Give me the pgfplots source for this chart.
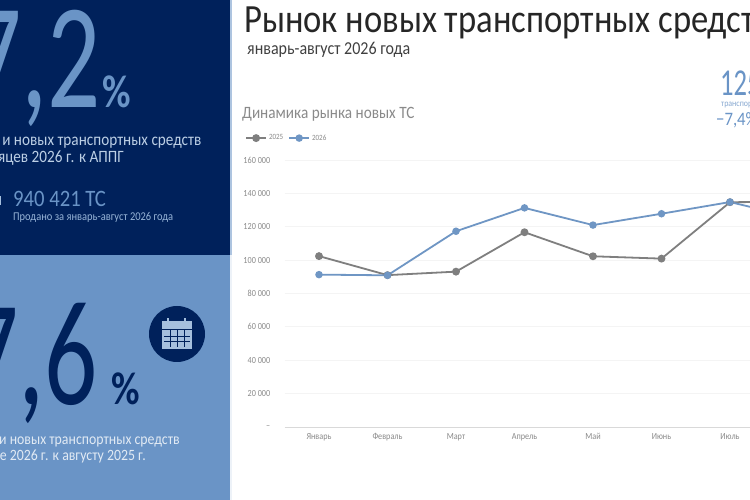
\documentclass[border=0pt]{standalone}
\usepackage{fontspec}
\setmainfont{Carlito}[FakeStretch=0.88]
\newfontfamily\numf{Carlito}[FakeStretch=0.7]
\newfontfamily\pctf{Carlito}[FakeStretch=0.85]
\newfontfamily\titf{Carlito}[FakeStretch=0.865]
\usepackage{pgfplots}
\pgfplotsset{compat=1.18}
\definecolor{navy}{HTML}{00215B}
\definecolor{midblue}{HTML}{6A94C6}
\definecolor{paleline}{HTML}{F4F4F4}
\definecolor{gline}{HTML}{7F7F7F}
\definecolor{bline}{HTML}{6F96C4}
\definecolor{txt}{HTML}{8A8A8A}
\newcommand{\fs}[1]{\fontsize{#1}{#1}\selectfont}
\pgfplotstableread{
x y25 y26
0 102400 91300
1 91000 90900
2 93100 117300
3 116700 131300
4 102300 121000
5 100900 127800
6 134700 134800
7 135000 125000
}\market
\begin{document}
\begin{tikzpicture}[x=1pt,y=1pt]
\path[use as bounding box] (0,0) rectangle (750,500);
\clip (0,0) rectangle (750,500);
\fill[white] (0,0) rectangle (750,500);
% left panels
\fill[navy] (0,245) rectangle (230,500);
\fill[midblue] (0,0) rectangle (230,245);
\fill[midblue!55] (230,245) rectangle (232,500);
\fill[midblue!12] (230,0) rectangle (232,245);
\fill[midblue!60] (0,295) rectangle (1.2,304);
% top panel text
\node[anchor=base east,inner sep=0,text=midblue] at (101,392) {\numf\fs{150}7,2};
\node[anchor=base west,inner sep=0,text=midblue] at (102,392) {\pctf\bfseries\fs{46}\%};
\node[anchor=base east,inner sep=0,text=midblue!45!white] at (201.5,354) {\fs{17.3}и новых транспортных средств};
\node[anchor=base east,inner sep=0,text=midblue!45!white] at (124,337) {\fs{17.3}яцев 2026 г. к АППГ};
\node[anchor=base west,inner sep=0,text=midblue] at (13,293) {\fs{23.5}940 421 ТС};
\node[anchor=base west,inner sep=0,text=midblue!70!white] at (13,279) {\fs{11.9}Продано за январь-август 2026 года};
% bottom panel text
\node[anchor=base east,inner sep=0,text=navy] at (98,95) {\numf\fs{150}7,6};
\node[anchor=base west,inner sep=0,text=navy] at (111,95) {\pctf\bfseries\fs{46}\%};
\node[anchor=base east,inner sep=0,text=midblue!20!white] at (180,55) {\fs{15.7}и новых транспортных средств};
\node[anchor=base east,inner sep=0,text=midblue!20!white] at (146,39) {\fs{15.7}е 2026 г. к августу 2025 г.};
% calendar icon
\fill[navy] (177,166) circle (28);
\fill[midblue!60!white] (162,151) rectangle (192,179);
\draw[navy,line width=0.9pt] (162,170.5) -- (192,170.5) (164,164) -- (190,164) (164,158.5) -- (190,158.5)
  (170,153) -- (170,170) (177,153) -- (177,170) (184,153) -- (184,170);
\draw[navy,line width=2.6pt] (168,175) -- (168,182) (185,175) -- (185,182);
\draw[midblue!60!white,line width=1.1pt] (168,175) -- (168,182) (185,175) -- (185,182);
% header
\node[anchor=base west,inner sep=0,text=black!85] at (244,467) {\titf\fs{40}Рынок новых транспортных средств};
\node[anchor=base west,inner sep=0,text=black!75] at (247,445) {\fs{18.2}январь-август 2026 года};
\node[anchor=base west,inner sep=0,text=txt] at (242,381) {\fs{17.3}Динамика рынка новых ТС};
% right KPI
\node[anchor=base west,inner sep=0,text=midblue] at (720,404) {\numf\fs{38}125 000};
\node[anchor=base west,inner sep=0,text=midblue!80!white] at (721,393) {\fs{9}транспортных средств};
\node[anchor=base west,inner sep=0,text=midblue] at (716,374) {\fs{19}−7,4\%};
\begin{axis}[
  at={(284.75pt,73pt)},anchor=south west,
  scale only axis,width=548pt,height=267pt,
  xmin=-0.5,xmax=7.5,ymin=0,ymax=160000,
  axis x line*=bottom,axis y line*=left,
  y axis line style={draw=none},
  x axis line style={draw=black!15,line width=0.8pt,-},
  major tick length=0pt,
  xtick={0,...,7},
  xticklabels={Январь,Февраль,Март,Апрель,Май,Июнь,Июль,Август},
  ytick={0,20000,...,160000},
  yticklabels={--,20 000,40 000,60 000,80 000,100 000,120 000,140 000,160 000},
  scaled y ticks=false,
  ymajorgrids,
  grid style={paleline,line width=0.8pt},
  tick label style={font=\fs{9.3},text=txt},
  xticklabel style={yshift=-3pt},
  yticklabel style={xshift=-11pt},
  clip=false,
  legend style={at={(-0.0725,1.082)},anchor=west,draw=none,fill=none,
    legend columns=2,font=\fs{8},text=txt,inner sep=0pt,
    /tikz/every even column/.style={column sep=3pt}},
  legend image code/.code={\draw[mark repeat=2,mark phase=2,#1] plot coordinates {(0cm,0cm)(10pt,0cm)(20pt,0cm)};},
  legend cell align=left,
]
\addplot[gline,line width=1.8pt,mark=*,mark size=3pt,mark options={fill=gline,draw=gline}] table[x=x,y=y25] {\market};
\addplot[bline,line width=1.8pt,mark=*,mark size=2.8pt,mark options={fill=bline,draw=bline}] table[x=x,y=y26] {\market};
\legend{2025,2026}
\end{axis}
\end{tikzpicture}
\end{document}
